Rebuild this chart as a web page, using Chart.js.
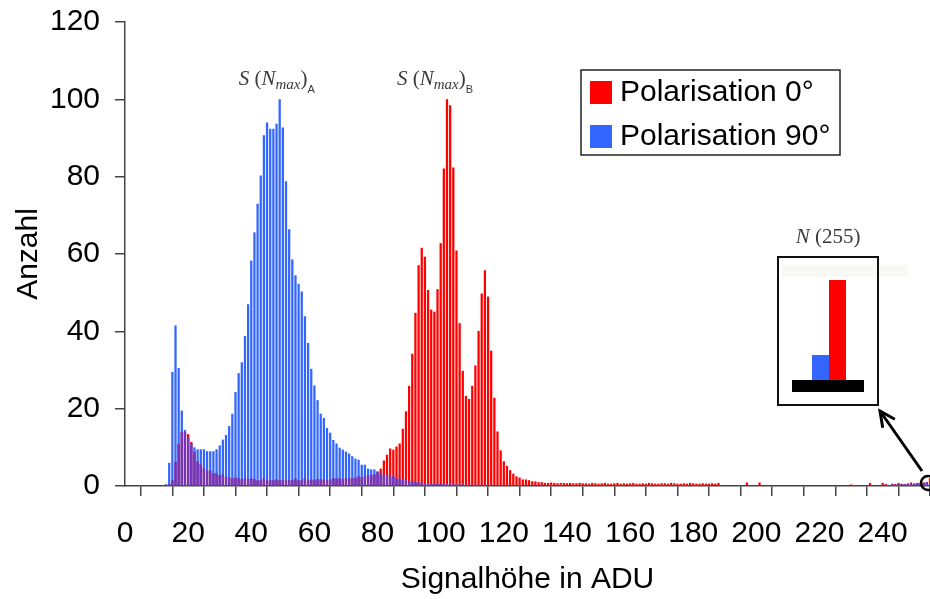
<!DOCTYPE html>
<html>
<head>
<meta charset="utf-8">
<script src="https://cdn.jsdelivr.net/npm/chart.js@4.4.1/dist/chart.umd.min.js"></script>
<style>
  html, body { margin: 0; padding: 0; background: #fff; }
  #wrap { width: 930px; height: 599px; position: relative; }
</style>
</head>
<body>
<div id="wrap"><canvas id="hist"></canvas></div>
<script>
// ADU bins 0..255
const bins = Array.from({ length: 256 }, (_, i) => i);

const xTickLabels = [0, 20, 40, 60, 80, 100, 120, 140, 160, 180, 200, 220, 240];
const yTickLabels = [0, 20, 40, 60, 80, 100, 120];

const seriesNames = ["Polarisation 0°", "Polarisation 90°"];

// Polarisation 0° (red)
const pol0 = [
  0, 0, 0, 0, 0, 0, 0, 0, 0, 0, 0, 0, 0, 0, 0.5, 1.5,
  6.2, 10.9, 13.9, 13.9, 13.4, 11.4, 8.9, 6.4, 5.6, 4.7, 4, 4, 3.3, 3.3, 2.8, 3,
  2.5, 2.2, 2, 2.2, 2, 1.8, 2, 1.8, 2, 1.8, 1.5, 1.5, 2, 1.5, 1.5, 1.5,
  1.7, 1.5, 1.5, 1.5, 1.5, 1.5, 1.9, 1.5, 1.5, 2, 1.5, 1.7, 1.5, 1.8, 1.7, 1.7,
  1.5, 1.7, 2, 1.9, 2, 1.8, 2, 2, 2.1, 2.1, 2.5, 2.3, 2.5, 2.8, 2.9, 3,
  3.8, 4.5, 6.6, 8.1, 9.7, 9.4, 10.2, 11, 14.8, 19.3, 25.9, 34.2, 44.8, 57.1, 61.6, 59.3,
  50.7, 45.6, 45.1, 50.9, 62.8, 82.1, 100, 98.5, 82.4, 60.9, 42.1, 29.8, 23.3, 22.5, 25.9, 31.2,
  40.1, 49.8, 55.8, 49, 35, 22.8, 14.1, 9.2, 6.4, 5.2, 4.1, 3.2, 2.5, 2.2, 1.7, 1.7,
  1.5, 1.2, 1.2, 1, 1, 0.8, 0.8, 0.9, 0.8, 0.7, 0.8, 0.8, 0.7, 0.8, 0.7, 0.7,
  0.8, 0.7, 0.7, 0.6, 0.8, 0.7, 0.6, 0.7, 0.8, 0.6, 0.6, 0.7, 0.8, 0.6, 0.7, 0.6,
  0.7, 0.8, 0.6, 0.6, 0.7, 0.6, 0.8, 0.7, 0.6, 0.6, 0.7, 0.7, 0.6, 0.8, 0.7, 0.6,
  0.6, 0.7, 0.6, 0.8, 0.7, 0.6, 0.6, 0.7, 0.6, 0.6, 0.7, 0.6, 0.8, 0, 0, 0,
  0, 0, 0, 0, 0, 0.9, 0, 0, 0, 0.9, 0, 0, 0, 0, 0, 0,
  0, 0, 0, 0, 0, 0, 0, 0, 0, 0, 0, 0, 0, 0, 0, 0,
  0, 0, 0, 0, 0, 0, 0.4, 0, 0, 0, 0, 0, 0.8, 0, 0, 0,
  0.8, 0.5, 0, 0.6, 0.5, 0.8, 0.6, 0.5, 0.7, 0.9, 0.6, 0.8, 0.7, 0.9, 1.0, 2.0
];

// Polarisation 90° (blue)
const pol90 = [
  0, 0, 0, 0, 0, 0, 0, 0, 0, 0, 0, 0, 0, 0.5, 6, 29.5,
  41.5, 30.5, 19.5, 14.5, 12.5, 11, 10, 9.5, 9.5, 9.5, 9, 9, 9, 9.5, 10.5, 12,
  13.2, 15.5, 18.7, 24.3, 29.2, 32, 38.8, 47, 58.3, 65.6, 73, 80.3, 90.7, 94, 92.4, 92.4,
  93.7, 100, 92.7, 78.8, 66.4, 58.6, 54.5, 52.3, 50.3, 43.9, 37, 30.3, 26, 22.2, 18.7, 17.6,
  15, 13.8, 11.9, 11, 9.9, 9.4, 8.9, 8.4, 7.7, 7.1, 6.8, 5.5, 5.5, 4.5, 4.3, 4.3,
  3.6, 3.4, 2.9, 2.9, 2.5, 2.5, 1.9, 1.9, 1.5, 1.5, 1.3, 1.2, 1.0, 0.9, 0.8, 0.7,
  0.7, 0.6, 0.6, 0.5, 0.5, 0.5, 0.4, 0.4, 0.4, 0.4, 0.3, 0.4, 0.3, 0.3, 0.3, 0.3,
  0.3, 0.3, 0.3, 0.2, 0.3, 0.2, 0.2, 0.3, 0.2, 0.2, 0.2, 0.2, 0.2, 0.2, 0.2, 0.2,
  0.2, 0.2, 0.2, 0.2, 0.2, 0.2, 0.2, 0.1, 0.2, 0.2, 0.1, 0.2, 0.2, 0.2, 0.1, 0.2,
  0.2, 0.1, 0.2, 0.1, 0.2, 0.2, 0.1, 0.1, 0.2, 0.1, 0.1, 0.2, 0.1, 0.1, 0.1, 0.2,
  0.1, 0.1, 0.1, 0.1, 0.2, 0.1, 0.1, 0.1, 0.1, 0.1, 0.1, 0.1, 0.1, 0.1, 0.1, 0.1,
  0.1, 0.1, 0.1, 0.1, 0.1, 0.1, 0.1, 0.1, 0.1, 0, 0, 0, 0, 0, 0, 0,
  0, 0, 0, 0, 0, 0, 0, 0, 0, 0, 0, 0, 0, 0, 0, 0,
  0, 0, 0, 0, 0, 0, 0, 0, 0, 0, 0, 0, 0, 0, 0, 0,
  0, 0, 0, 0, 0, 0, 0, 0, 0, 0, 0, 0, 0, 0, 0, 0.2,
  0.2, 0.3, 0.3, 0.4, 0.3, 0.4, 0.4, 0.5, 0.4, 0.5, 0.6, 0.6, 0.7, 0.8, 1.0, 0.5
];

const RED = "#ff0000";
const BLUE = "#3366ff";
const MIX = "rgb(120, 52, 180)";
const SANS = "'Liberation Sans', Arial, sans-serif";
const SERIF = "'Liberation Serif', 'Times New Roman', serif";

// where both histograms overlap the bar shows as a mixed colour
const overlap = pol0.map((v, i) => Math.min(v, pol90[i]));

function barSet(label, values, color, order) {
  return {
    label,
    data: bins.map((b, i) => ({ x: b, y: values[i] })),
    backgroundColor: color,
    borderWidth: 0,
    grouped: false,
    barPercentage: 0.72,
    categoryPercentage: 1,
    order
  };
}

// small LaTeX-like label: S (N_max)_X
function drawSmax(ctx, cx, baseY, sub) {
  const parts = [
    { t: "S", f: "italic 21px " + SERIF, dy: 0 },
    { t: " (", f: "21px " + SERIF, dy: 0 },
    { t: "N", f: "italic 21px " + SERIF, dy: 0 },
    { t: "max", f: "italic 15px " + SERIF, dy: 4 },
    { t: ")", f: "21px " + SERIF, dy: 0 },
    { t: sub, f: "11px " + SANS, dy: 8 }
  ];
  let w = 0;
  parts.forEach(p => { ctx.font = p.f; w += ctx.measureText(p.t).width; });
  let x = cx - w / 2;
  ctx.fillStyle = "#3a3a3a";
  ctx.textAlign = "left";
  ctx.textBaseline = "alphabetic";
  parts.forEach(p => {
    ctx.font = p.f;
    ctx.fillText(p.t, x, baseY + p.dy);
    x += ctx.measureText(p.t).width;
  });
}

const extras = {
  id: "extras",
  afterDraw(chart) {
    const { ctx } = chart;
    const xs = chart.scales.x;
    const ys = chart.scales.y;
    ctx.save();

    // legend
    ctx.strokeStyle = "#222";
    ctx.lineWidth = 1.5;
    ctx.strokeRect(581, 70, 259, 85);
    [[RED, 81], [BLUE, 125]].forEach(([c, y], i) => {
      ctx.fillStyle = c;
      ctx.fillRect(590, y, 22, 23);
      ctx.fillStyle = "#000";
      ctx.font = "30px " + SANS;
      ctx.textAlign = "left";
      ctx.textBaseline = "middle";
      ctx.fillText(seriesNames[i], 620, y + 12);
    });

    // peak annotations
    drawSmax(ctx, xs.getPixelForValue(49) - 3, ys.getPixelForValue(100) - 14, "A");
    drawSmax(ctx, xs.getPixelForValue(102) - 12, ys.getPixelForValue(100) - 14, "B");

    // circle around bin 255
    const cx = xs.getPixelForValue(255) - 2;
    const cy = ys.getPixelForValue(0) - 3;
    ctx.strokeStyle = "#000";
    ctx.lineWidth = 2.5;
    ctx.beginPath();
    ctx.arc(cx, cy, 7, 0, Math.PI * 2);
    ctx.stroke();

    // arrow to inset
    const tipX = 880, tipY = 411;
    ctx.lineWidth = 3;
    ctx.beginPath();
    ctx.moveTo(cx - 6, cy - 12);
    ctx.lineTo(tipX, tipY);
    ctx.stroke();
    const ang = Math.atan2(tipY - (cy - 12), tipX - (cx - 6));
    ctx.beginPath();
    ctx.moveTo(tipX - 17 * Math.cos(ang - 0.45), tipY - 17 * Math.sin(ang - 0.45));
    ctx.lineTo(tipX, tipY);
    ctx.lineTo(tipX - 17 * Math.cos(ang + 0.45), tipY - 17 * Math.sin(ang + 0.45));
    ctx.stroke();

    // inset: zoom on bin 255
    ctx.fillStyle = "#f8f8f4";
    ctx.fillRect(782, 265, 126, 12);
    ctx.lineWidth = 2;
    ctx.strokeStyle = "#111";
    ctx.strokeRect(778, 257, 100, 148);
    const base = 380, k = 50;
    ctx.fillStyle = BLUE;
    ctx.fillRect(812, base - pol90[255] * k, 17, pol90[255] * k);
    ctx.fillStyle = RED;
    ctx.fillRect(829, base - pol0[255] * k, 17, pol0[255] * k);
    ctx.fillStyle = "#000";
    ctx.fillRect(792, base, 72, 12);

    ctx.fillStyle = "#3a3a3a";
    ctx.textBaseline = "alphabetic";
    ctx.textAlign = "left";
    ctx.font = "italic 21px " + SERIF;
    const nW = ctx.measureText("N").width;
    ctx.font = "21px " + SERIF;
    const rW = ctx.measureText(" (255)").width;
    let tx = 828 - (nW + rW) / 2;
    ctx.font = "italic 21px " + SERIF;
    ctx.fillText("N", tx, 243);
    ctx.font = "21px " + SERIF;
    ctx.fillText(" (255)", tx + nW, 243);

    ctx.restore();
  }
};

new Chart(document.getElementById("hist"), {
  type: "bar",
  data: {
    datasets: [
      barSet("overlap", overlap, MIX, 0),
      barSet(seriesNames[1], pol90, BLUE, 1),
      barSet(seriesNames[0], pol0, RED, 2)
    ]
  },
  options: {
    responsive: true,
    maintainAspectRatio: false,
    animation: false,
    layout: { padding: { top: 22, right: 0, left: 0, bottom: 0 } },
    plugins: {
      legend: { display: false },
      tooltip: { enabled: false }
    },
    scales: {
      x: {
        type: "linear",
        min: 0,
        max: 255,
        offset: false,
        afterFit: s => { s.height = 113; s.paddingLeft = 0; s.paddingRight = 0; },
        border: { color: "#444", width: 1.5 },
        grid: { drawOnChartArea: false, drawTicks: true, tickLength: 10, color: "#444", lineWidth: 1.5 },
        ticks: {
          stepSize: 10,
          includeBounds: false,
          autoSkip: false,
          maxRotation: 0,
          padding: 20,
          color: "#000",
          font: { family: SANS, size: 30 },
          callback: v => (xTickLabels.includes(v) ? String(v) : "")
        },
        title: {
          display: true,
          text: "Signalhöhe in ADU",
          color: "#000",
          font: { family: SANS, size: 30, lineHeight: 1.2 },
          padding: { top: 0, bottom: 1 }
        }
      },
      y: {
        min: 0,
        max: 120,
        afterFit: s => { s.width = 125; s.paddingTop = 0; s.paddingBottom = 0; },
        border: { color: "#444", width: 1.5 },
        grid: { drawOnChartArea: false, drawTicks: true, tickLength: 10, color: "#444", lineWidth: 1.5 },
        ticks: {
          stepSize: 20,
          padding: 15,
          color: "#000",
          font: { family: SANS, size: 30 },
          callback: v => (yTickLabels.includes(v) ? String(v) : "")
        },
        title: {
          display: true,
          text: "Anzahl",
          color: "#000",
          font: { family: SANS, size: 30, lineHeight: 1.2 },
          padding: { top: 11, bottom: 0 }
        }
      }
    }
  },
  plugins: [extras]
});
</script>
</body>
</html>
